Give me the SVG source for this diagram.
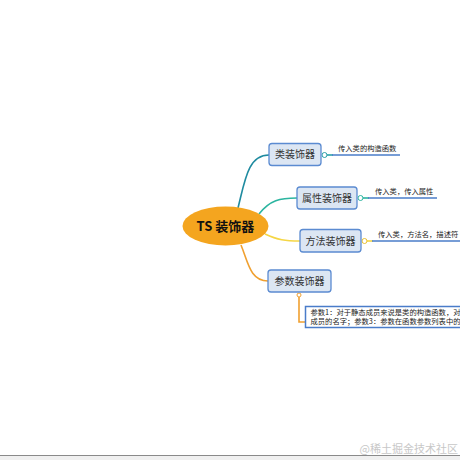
<svg xmlns="http://www.w3.org/2000/svg" width="460" height="460" viewBox="0 0 460 460">
<style>
.sub rect{fill:#dce6f3;stroke:#5b8bd1;stroke-width:1.3}
.sub text{font-family:"Noto Sans CJK SC","Liberation Sans",sans-serif;font-size:10px;fill:#333;text-anchor:middle}
.lbl{font-family:"Noto Sans CJK SC","Liberation Sans",sans-serif;font-size:7.3px;fill:#222}
.bl{stroke:#4a7cc9;stroke-width:1.5;fill:none}
.dot{fill:#fff;stroke-width:1}
</style>
<rect width="460" height="460" fill="#fff"/>
<g id="connectors" fill="none" stroke-width="1.6">
<path d="M238,208 C245,180 248,155 269,155" stroke="#1f8ba0"/>
<path d="M259,214 C270,200 280,198 297,198" stroke="#2cb5a0"/>
<path d="M265,234 C278,240 285,241 300,241" stroke="#f5d645"/>
<path d="M241,245 C248,262 250,281 268,281" stroke="#f0a030"/>
<path d="M299,297 V322 H305" stroke="#f0a030"/>
<path d="M327,155 H333" stroke="#2aa0a8"/>
<path d="M363,198 H369" stroke="#2cb5a0"/>
<path d="M367,241 H373" stroke="#f5d645"/>
<path class="bl" d="M332,155 H400"/>
<path class="bl" d="M368,198 H437"/>
<path class="bl" d="M372,241 H460"/>
<circle class="dot" cx="324.5" cy="155" r="2.5" stroke="#2aa0a8"/>
<circle class="dot" cx="360.5" cy="198" r="2.5" stroke="#2cb5a0"/>
<circle class="dot" cx="364.5" cy="241" r="2.5" stroke="#e8c030"/>
<circle class="dot" cx="299" cy="295" r="2" stroke="#f0a030"/>
</g>
<g id="root">
<ellipse cx="225.5" cy="226" rx="43" ry="19.5" fill="#f4a51f"/>
<text x="225.5" y="230.5" text-anchor="middle" font-family="'Noto Sans CJK SC','Liberation Sans',sans-serif" font-size="13" font-weight="bold" fill="#111">TS 装饰器</text>
</g>
<g id="n1" class="sub">
<rect x="269" y="143.5" width="52" height="22" rx="3"/>
<text x="295" y="158">类装饰器</text>
<text class="lbl" x="338" y="151" style="text-anchor:start;font-size:7.3px;fill:#222">传入类的构造函数</text>
</g>
<g id="n2" class="sub">
<rect x="297" y="187" width="60" height="22" rx="3"/>
<text x="327" y="201.5">属性装饰器</text>
<text class="lbl" x="375" y="194" style="text-anchor:start;font-size:7.3px;fill:#222">传入类，传入属性</text>
</g>
<g id="n3" class="sub">
<rect x="300" y="229.5" width="61" height="22.5" rx="3"/>
<text x="330.5" y="244.5">方法装饰器</text>
<text class="lbl" x="378" y="237" style="text-anchor:start;font-size:7.3px;fill:#222">传入类，方法名，描述符</text>
</g>
<g id="n4" class="sub">
<rect x="268" y="270" width="63" height="22" rx="3"/>
<text x="299.5" y="284.5">参数装饰器</text>
</g>
<g id="n5">
<rect x="305.5" y="306.5" width="170" height="21" fill="#fff" stroke="#4a7cc9" stroke-width="1.5"/>
<text class="lbl" x="310.5" y="315">参数1：对于静态成员来说是类的构造函数，对于</text>
<text class="lbl" x="310.5" y="323.5">成员的名字；参数3：参数在函数参数列表中的索</text>
</g>
<text x="458" y="453" text-anchor="end" font-family="'Noto Sans CJK SC',sans-serif" font-size="11" fill="#c8c8c8">@稀土掘金技术社区</text>
<rect x="0" y="456" width="460" height="4" fill="#f0f0f0"/>
<line x1="0" y1="455.5" x2="460" y2="455.5" stroke="#8a8a8a" stroke-width="1"/>
</svg>
